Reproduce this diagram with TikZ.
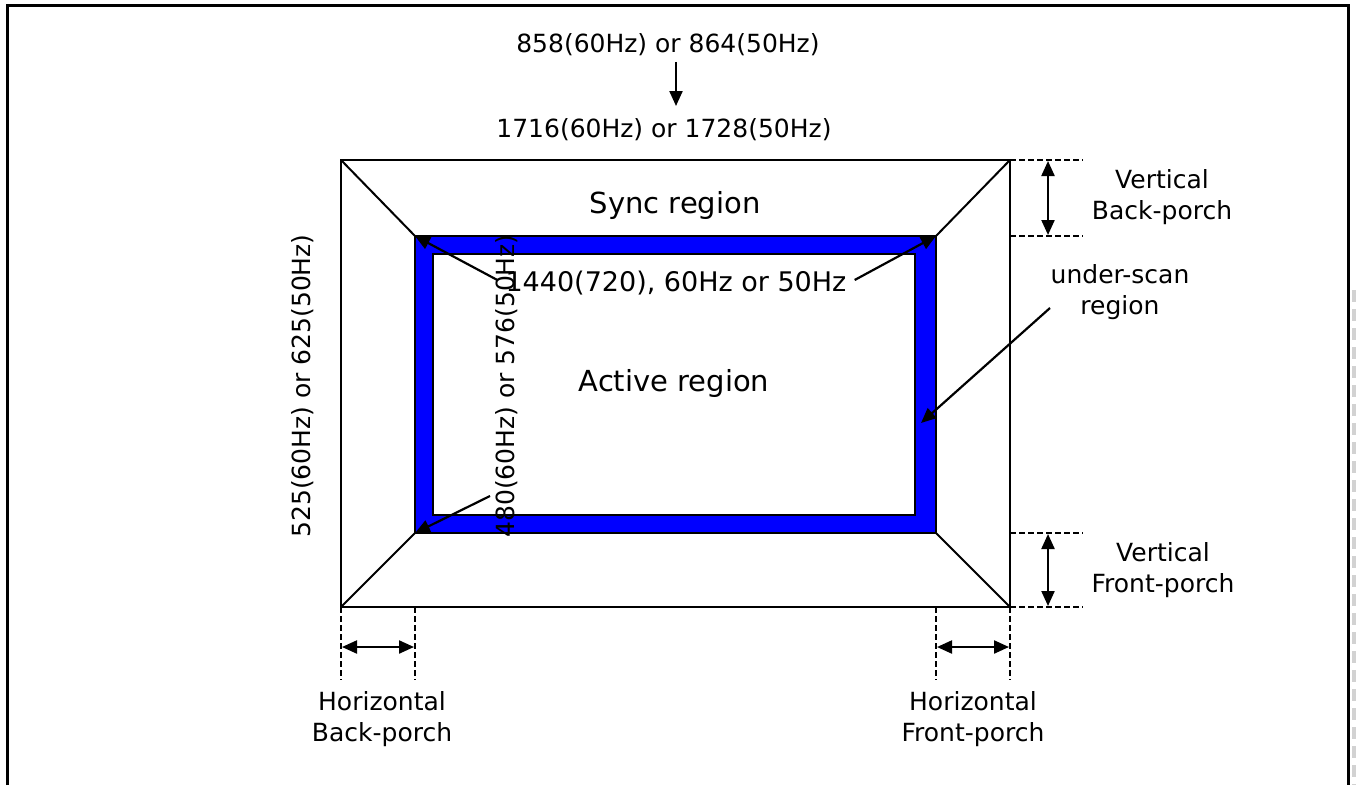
\documentclass[tikz,border=0pt]{standalone}
\usepackage{fontspec}
\setmainfont{DejaVu Sans}
\usetikzlibrary{arrows.meta}
\begin{document}
\begin{tikzpicture}[x=1bp,y=-1bp,
  lbl/.style={font=\fontsize{25bp}{31bp}\selectfont, inner sep=0pt, align=center},
  big/.style={font=\fontsize{29bp}{33bp}\selectfont, inner sep=0pt},
  mid/.style={font=\fontsize{27bp}{31bp}\selectfont, inner sep=0pt},
  tip/.tip={Triangle[length=15bp,width=13bp]},
  arr/.style={line width=2.2bp, -tip},
  darr/.style={line width=2.2bp, tip-tip},
  dsh/.style={line width=1.6bp, dash pattern=on 6bp off 3bp},
  edge/.style={line width=2bp}]
\useasboundingbox (0,0) rectangle (1357,785);
% outer frame
\draw[line width=3bp] (7,785) -- (7,6) -- (1348,6) -- (1348,785);
\draw[gray!35, line width=4bp, dash pattern=on 12bp off 7bp] (1354,290) -- (1354,785);
% corners
\coordinate (O1) at (341,160); \coordinate (O2) at (1010,160);
\coordinate (O3) at (1010,607); \coordinate (O4) at (341,607);
\coordinate (B1) at (415,236); \coordinate (B2) at (936,236);
\coordinate (B3) at (936,533); \coordinate (B4) at (415,533);
% blue under-scan band
\fill[blue, even odd rule] (415,236) rectangle (936,533) (433,254) rectangle (915,515);
\draw[edge] (B1) rectangle (B3);
\draw[edge] (433,254) rectangle (915,515);
\draw[edge] (O1) rectangle (O3);
\draw[edge] (O1) -- (B1); \draw[edge] (O2) -- (B2);
\draw[edge] (O3) -- (B3); \draw[edge] (O4) -- (B4);
% top labels
\node[lbl] (t1) at (668,45) {858(60Hz) or 864(50Hz)};
\node[lbl] (t2) at (664,130) {1716(60Hz) or 1728(50Hz)};
\draw[arr] (676,62) -- (676,106);
\node[big] (sync) at (675,205) {Sync region};
\node[big] (act) at (674,383) {Active region};
\node[mid, inner xsep=8bp] (h1440) at (676,283) {1440(720), 60Hz or 50Hz};
\draw[arr] (h1440.west) ++(0,-3) -- (B1);
\draw[arr] (h1440.east) ++(0,-3) -- (B2);
% vertical labels
\node[lbl, rotate=90] (v525) at (303,386) {525(60Hz) or 625(50Hz)};
\node[lbl, rotate=90] (v480) at (507,386) {480(60Hz) or 576(50Hz)};
\coordinate (a480) at (490,496);
\draw[arr] (a480) -- (B4);
% under-scan
\node[lbl] (us) at (1120,292) {under-scan\\region};
\coordinate (aus) at (1050,308);
\draw[arr] (aus) -- (921,423);
% vertical porches
\coordinate (d1) at (1083,160); \coordinate (d2) at (1083,236);
\coordinate (d3) at (1083,533); \coordinate (d4) at (1083,607);
\draw[dsh] (O2) -- (d1);
\draw[dsh] (1010,236) -- (d2);
\draw[dsh] (1010,533) -- (d3);
\draw[dsh] (O3) -- (d4);
\draw[darr] (1048,161) -- (1048,235);
\draw[darr] (1048,534) -- (1048,606);
\node[lbl] (vbp) at (1162,197) {Vertical\\Back-porch};
\node[lbl] (vfp) at (1163,570) {Vertical\\Front-porch};
% horizontal porches
\coordinate (e1) at (341,680); \coordinate (e2) at (415,680);
\coordinate (e3) at (936,680); \coordinate (e4) at (1010,680);
\draw[dsh] (O4) -- (e1);
\draw[dsh] (415,607) -- (e2);
\draw[dsh] (936,607) -- (e3);
\draw[dsh] (O3) -- (e4);
\draw[darr] (342,647) -- (414,647);
\draw[darr] (937,647) -- (1009,647);
\node[lbl] (hbp) at (382,719) {Horizontal\\Back-porch};
\node[lbl] (hfp) at (973,719) {Horizontal\\Front-porch};
\end{tikzpicture}
\end{document}
